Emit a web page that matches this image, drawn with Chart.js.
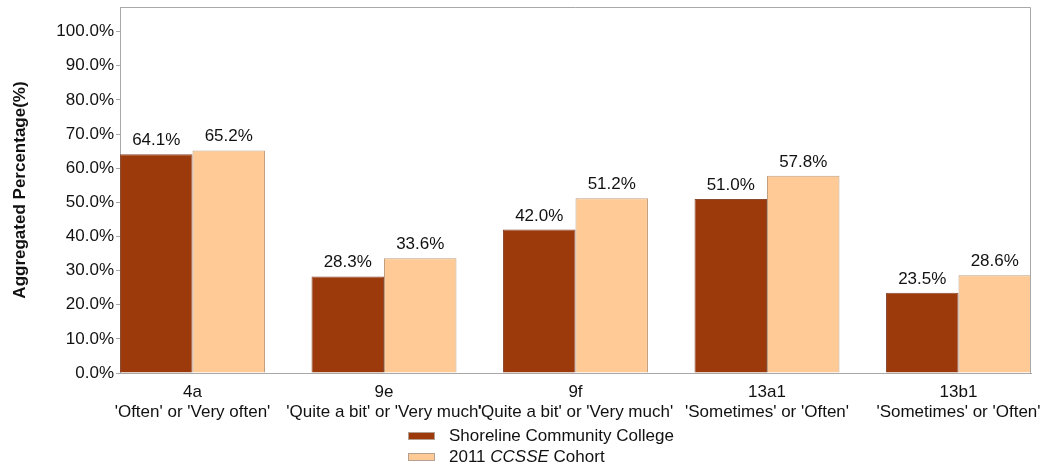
<!DOCTYPE html>
<html>
<head>
<meta charset="utf-8">
<script src="https://cdn.jsdelivr.net/npm/chart.js@4/dist/chart.umd.min.js"></script>
<style>
  html, body { margin: 0; padding: 0; background: #fff; }
  #wrap { position: relative; width: 1048px; height: 465px; }
  #legend { position: absolute; left: 408px; top: 425px; font-family: "Liberation Sans", Arial, sans-serif; font-size: 17px; color: #111; }
  .item { display: flex; align-items: center; height: 21px; }
  .sw { width: 27px; height: 8px; margin-right: 14px; box-sizing: border-box; border: 1px solid #b4a090; }
</style>
</head>
<body>
<div id="wrap">
  <canvas id="c" width="1048" height="465"></canvas>
  <div id="legend">
    <div class="item"><span class="sw" style="background:#9C3A0C"></span><span>Shoreline Community College</span></div>
    <div class="item"><span class="sw" style="background:#FFCA96"></span><span>2011 <i>CCSSE</i> Cohort</span></div>
  </div>
</div>
<script>
const codes = ["4a", "9e", "9f", "13a1", "13b1"];
const responses = ["'Often' or 'Very often'", "'Quite a bit' or 'Very much'", "'Quite a bit' or 'Very much'", "'Sometimes' or 'Often'", "'Sometimes' or 'Often'"];
const shoreline = [64.1, 28.3, 42.0, 51.0, 23.5];
const cohort = [65.2, 33.6, 51.2, 57.8, 28.6];
const yTicks = [0, 10, 20, 30, 40, 50, 60, 70, 80, 90, 100];

const FONT = '"Liberation Sans", Arial, sans-serif';

const frame = {
  id: 'frame',
  afterDraw(chart) {
    const a = chart.chartArea, ctx = chart.ctx;
    ctx.save();
    ctx.strokeStyle = '#a8a8a8';
    ctx.lineWidth = 1;
    ctx.beginPath();
    ctx.moveTo(a.left, a.top + 0.5);
    ctx.lineTo(a.right - 0.5, a.top + 0.5);
    ctx.lineTo(a.right - 0.5, a.bottom);
    ctx.stroke();
    ctx.restore();
  }
};

const valueLabels = {
  id: 'valueLabels',
  afterDatasetsDraw(chart) {
    const ctx = chart.ctx;
    ctx.save();
    ctx.font = '17px ' + FONT;
    ctx.fillStyle = '#111';
    ctx.textAlign = 'center';
    ctx.textBaseline = 'alphabetic';
    chart.data.datasets.forEach((ds, di) => {
      const meta = chart.getDatasetMeta(di);
      meta.data.forEach((el, i) => {
        ctx.fillText(ds.data[i].y.toFixed(1) + '%', el.x, el.y - 9);
      });
    });
    ctx.restore();
  }
};

new Chart(document.getElementById('c'), {
  type: 'bar',
  data: {
    datasets: [
      { label: 'Shoreline Community College', data: shoreline.map((v, i) => ({ x: i, y: v })), backgroundColor: '#9C3A0C', borderColor: '#8a4a30', borderWidth: 1 },
      { label: '2011 CCSSE Cohort', data: cohort.map((v, i) => ({ x: i, y: v })), backgroundColor: '#FFCA96', borderColor: '#c0a080', borderWidth: 1 }
    ]
  },
  options: {
    responsive: false,
    animation: false,
    devicePixelRatio: 1,
    categoryPercentage: 0.757,
    barPercentage: 1.0,
    layout: { padding: { top: 7, right: 17, left: 0, bottom: 0 } },
    plugins: { legend: { display: false }, tooltip: { enabled: false } },
    scales: {
      x: {
        type: 'linear',
        offset: false,
        min: -0.3786,
        max: 4.3786,
        afterFit(scale) { scale.height = 92; scale.paddingLeft = 0; scale.paddingRight = 0; },
        afterBuildTicks(scale) { scale.ticks = codes.map((c, i) => ({ value: i })); },
        grid: { display: false, offset: false },
        border: { display: true, color: '#a8a8a8' },
        ticks: {
          autoSkip: false, maxRotation: 0, minRotation: 0, padding: 1,
          color: '#111', font: { family: FONT, size: 17, lineHeight: '20px' },
          callback: (v) => [codes[v], responses[v]]
        }
      },
      y: {
        min: 0,
        max: 107.2,
        afterFit(scale) { scale.width = 120; scale.paddingTop = 0; scale.paddingBottom = 0; },
        afterBuildTicks(scale) { scale.ticks = yTicks.map(v => ({ value: v })); },
        grid: { drawOnChartArea: false, drawTicks: true, tickLength: 4, color: '#a8a8a8' },
        border: { display: true, color: '#a8a8a8' },
        ticks: {
          padding: 2, color: '#111', font: { family: FONT, size: 17 },
          callback: (v) => v.toFixed(1) + '%'
        },
        title: {
          display: true, text: 'Aggregated Percentage(%)', color: '#111',
          font: { family: FONT, size: 17, weight: 'bold' },
          padding: { top: 10, bottom: 0 }
        }
      }
    }
  },
  plugins: [frame, valueLabels]
});
</script>
</body>
</html>
